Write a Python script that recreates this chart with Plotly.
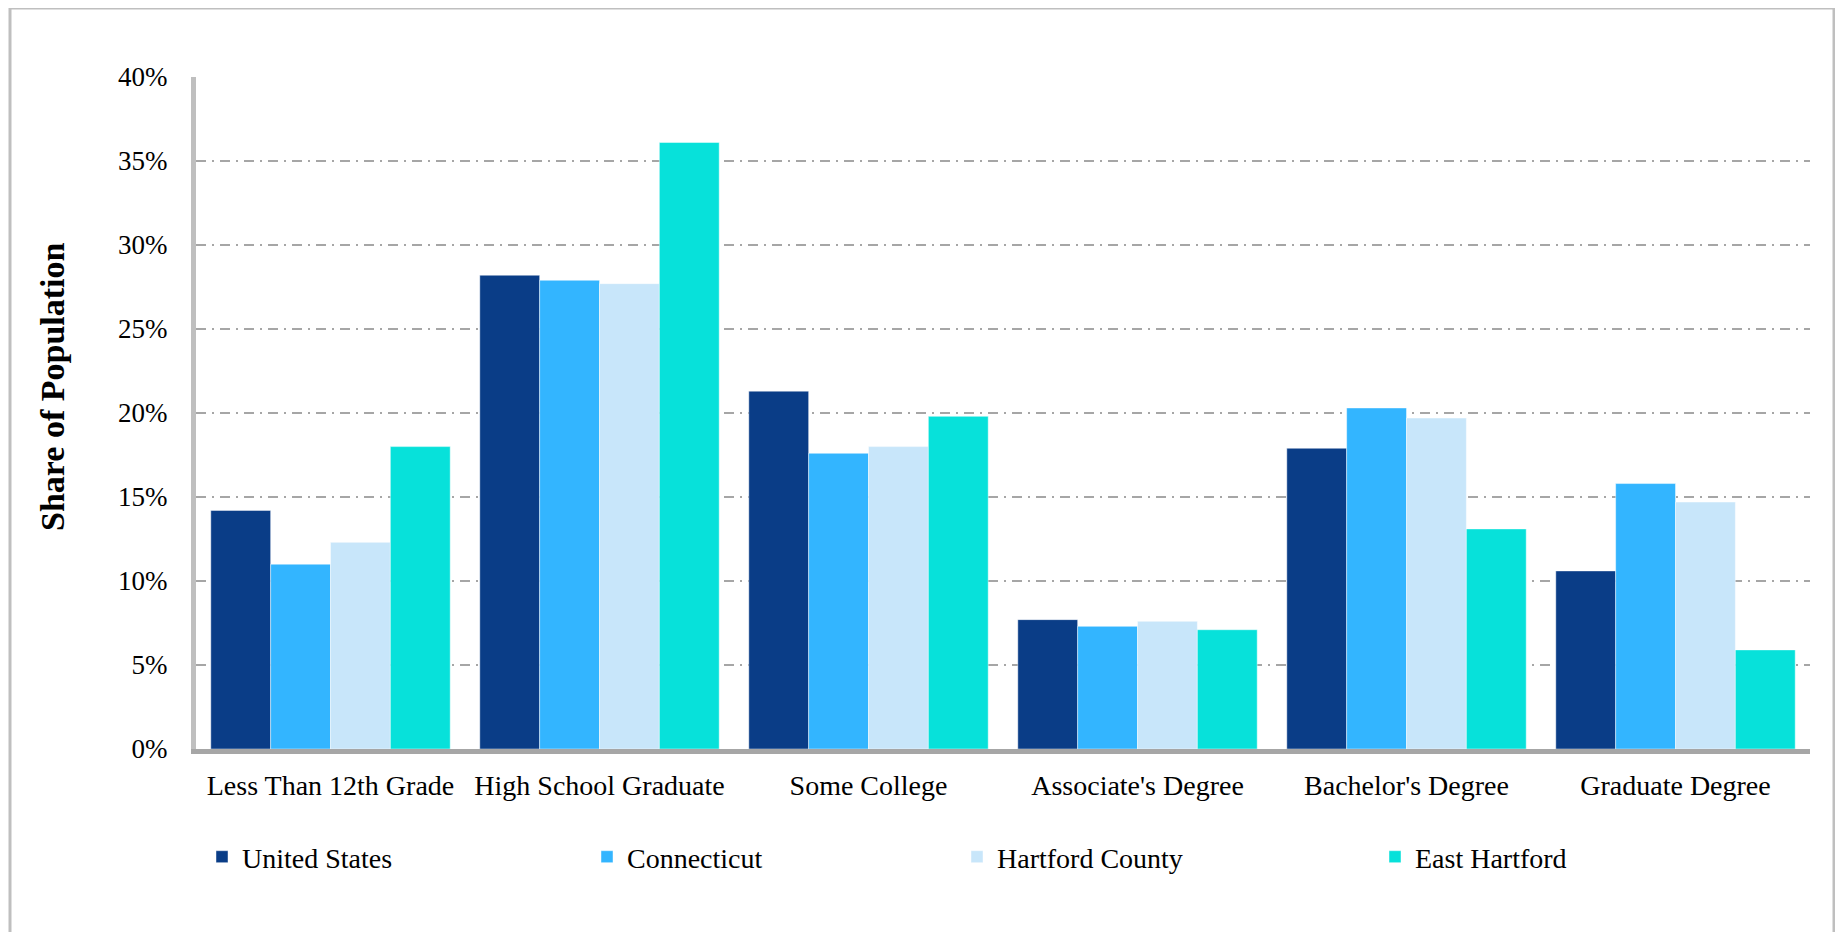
import plotly.graph_objects as go

categories = ["Less Than 12th Grade", "High School Graduate", "Some College",
              "Associate's Degree", "Bachelor's Degree", "Graduate Degree"]
united_states = [0.142, 0.282, 0.213, 0.077, 0.179, 0.106]
connecticut = [0.110, 0.279, 0.176, 0.073, 0.203, 0.158]
hartford_county = [0.123, 0.277, 0.180, 0.076, 0.197, 0.147]
east_hartford = [0.180, 0.361, 0.198, 0.071, 0.131, 0.059]
series_names = ["United States", "Connecticut", "Hartford County", "East Hartford"]
y_ticks = [0, 0.05, 0.10, 0.15, 0.20, 0.25, 0.30, 0.35, 0.40]

W, H = 1843, 932
OFF = 8  # page body margin
L, R, T, B = 196, 1810, 77, 749  # plot area in page pixels
pw, ph = R - L, B - T

def px(x):
    return (x - L) / pw

def py(y):
    return (B - y) / ph

FONT = "Liberation Serif"
colors = ["#0A3D87", "#33B5FF", "#C8E6FA", "#07E1DA"]
series = [united_states, connecticut, hartford_county, east_hartford]
legend_ids = ["legend", "legend2", "legend3", "legend4"]
legend_marker_centers = [222, 607, 977, 1395]

fig = go.Figure()
for name, vals, col, lid in zip(series_names, series, colors, legend_ids):
    fig.add_trace(go.Bar(
        x=categories, y=vals, name=name,
        marker=dict(color=col, line=dict(color="rgba(255,255,255,0.45)", width=1)),
        legend=lid,
    ))

layout_legends = {}
for lid, cx in zip(legend_ids, legend_marker_centers):
    layout_legends[lid] = dict(
        x=px(cx - 20), y=py(857), xanchor="left", yanchor="middle",
        orientation="h", bgcolor="rgba(0,0,0,0)", borderwidth=0,
        font=dict(family=FONT, size=28, color="#000000"),
    )

fig.update_layout(
    width=W - OFF, height=H - OFF,
    margin=dict(l=L - OFF, r=W - R, t=T - OFF, b=H - B, pad=0),
    paper_bgcolor="white", plot_bgcolor="white",
    barmode="group", bargap=0.11, bargroupgap=0,
    showlegend=True,
    font=dict(family=FONT, size=28, color="#000000"),
    **layout_legends,
)

fig.update_xaxes(
    type="category", showgrid=False, zeroline=False,
    showline=True, linecolor="#A6A6A6", linewidth=5,
    ticks="outside", ticklen=7, tickcolor="rgba(0,0,0,0)",
    tickfont=dict(family=FONT, size=28, color="#000000"),
)
fig.update_yaxes(
    range=[0, 0.40], tickvals=y_ticks, tickformat=".0%",
    showgrid=True, gridcolor="#A6A6A6", gridwidth=2, griddash="10px,6px,2px,6px",
    zeroline=False, showline=True, linecolor="#BFBFBF", linewidth=5,
    ticks="outside", ticklen=18, tickcolor="rgba(0,0,0,0)",
    tickfont=dict(family=FONT, size=27, color="#000000"),
)

fig.add_annotation(
    text="<b>Share of Population</b>", xref="paper", yref="paper",
    x=px(52), y=py(387), xanchor="center", yanchor="middle",
    textangle=-90, showarrow=False,
    font=dict(family=FONT, size=34, color="#000000"),
)

fig.add_shape(
    type="rect", xref="paper", yref="paper",
    x0=px(10), x1=px(1834), y0=py(1000), y1=py(8),
    line=dict(color="#BFBFBF", width=3), fillcolor="rgba(0,0,0,0)", layer="below",
)

fig.write_html("out.html")
